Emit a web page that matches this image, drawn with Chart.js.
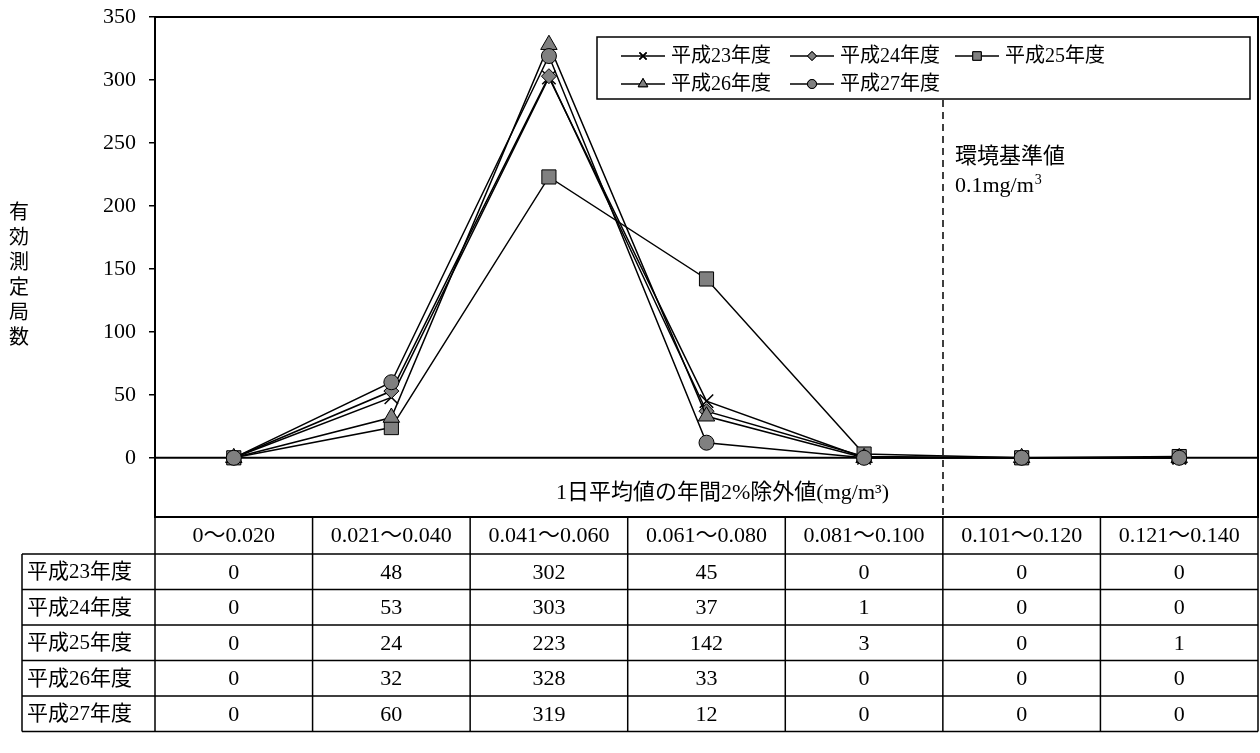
<!DOCTYPE html>
<html>
<head>
<meta charset="utf-8">
<script src="https://cdn.jsdelivr.net/npm/chart.js@4/dist/chart.umd.min.js"></script>
<style>
  html, body { margin: 0; padding: 0; background: #fff; }
  #wrap { width: 1260px; height: 753px; }
</style>
</head>
<body>
<div id="wrap"><canvas id="chart" width="1260" height="753"></canvas></div>
<script>
const categories = ['0～0.020', '0.021～0.040', '0.041～0.060', '0.061～0.080', '0.081～0.100', '0.101～0.120', '0.121～0.140']
const seriesNames = ['平成23年度', '平成24年度', '平成25年度', '平成26年度', '平成27年度']
const h23 = [0, 48, 302, 45, 0, 0, 0]
const h24 = [0, 53, 303, 37, 1, 0, 0]
const h25 = [0, 24, 223, 142, 3, 0, 1]
const h26 = [0, 32, 328, 33, 0, 0, 0]
const h27 = [0, 60, 319, 12, 0, 0, 0]
const yTicks = [0, 50, 100, 150, 200, 250, 300, 350]
const yTitle = '有効測定局数'
const xTitle = '1日平均値の年間2%除外値(mg/m³)'
const standardLabel = ['環境基準値', '0.1mg/m']

const seriesValues = [h23, h24, h25, h26, h27]
const markerStyles = ['crossRot', 'rectRot', 'rect', 'triangle', 'circle']
const markerRadius = [9.5, 7.5, 10, 9.5, 7.5]
const legendRadius = [5, 4.5, 6, 5.5, 4.5]

const SERIF = '"Liberation Serif", "Noto Sans CJK JP", serif'
const GRAY = '#808080'

const datasets = seriesValues.map((vals, i) => ({
  label: seriesNames[i],
  data: vals,
  borderColor: '#000',
  borderWidth: 1.5,
  pointStyle: markerStyles[i],
  pointRadius: markerRadius[i],
  pointBorderColor: '#000',
  pointBorderWidth: markerStyles[i] === 'crossRot' ? 1.5 : 1,
  pointBackgroundColor: GRAY,
  order: 4 - i,
  tension: 0
}))

function drawMarker(ctx, style, r, x, y) {
  Chart.helpers.drawPoint(ctx, {pointStyle: style, radius: r, rotation: 0, borderWidth: 1}, x, y)
  ctx.fill()
  ctx.stroke()
}

const decorations = {
  id: 'decorations',
  beforeDatasetsDraw(chart) {
    const ctx = chart.ctx
    const area = chart.chartArea
    const x = chart.scales.x
    const y = chart.scales.y
    ctx.save()
    // zero line
    ctx.strokeStyle = '#000'
    ctx.lineWidth = 2
    ctx.beginPath()
    ctx.moveTo(area.left, y.getPixelForValue(0))
    ctx.lineTo(area.right, y.getPixelForValue(0))
    ctx.stroke()

    // environmental standard line, between 0.081-0.100 and 0.101-0.120
    const sx = Math.round((x.getPixelForValue(4) + x.getPixelForValue(5)) / 2)
    ctx.lineWidth = 1.5
    ctx.setLineDash([7, 5])
    ctx.beginPath()
    ctx.moveTo(sx, 100)
    ctx.lineTo(sx, area.bottom)
    ctx.stroke()
    ctx.setLineDash([])

    ctx.fillStyle = '#000'
    ctx.font = '22px ' + SERIF
    ctx.textAlign = 'left'
    ctx.textBaseline = 'middle'
    ctx.fillText(standardLabel[0], sx + 12, 157)
    ctx.fillText(standardLabel[1], sx + 12, 186)
    const w = ctx.measureText(standardLabel[1]).width
    ctx.font = '14px ' + SERIF
    ctx.fillText('3', sx + 13 + w, 180)

    // x axis title
    ctx.font = '22px ' + SERIF
    ctx.textAlign = 'center'
    ctx.fillText(xTitle, (area.left + area.right) / 2 + 16, 493)

    // y axis title, vertical
    ctx.font = '20px "Noto Sans CJK JP", sans-serif'
    const chars = Array.from(yTitle)
    const mid = (y.getPixelForValue(0) + area.top) / 2 + 37
    chars.forEach((c, i) => {
      ctx.fillText(c, 19, mid + (i - (chars.length - 1) / 2) * 25)
    })
    ctx.restore()
  },
  afterDraw(chart) {
    const ctx = chart.ctx
    const area = chart.chartArea
    const x = chart.scales.x
    ctx.save()

    // plot frame
    ctx.strokeStyle = '#000'
    ctx.lineWidth = 2
    ctx.strokeRect(area.left, area.top, area.right - area.left, area.bottom - area.top)

    // legend box
    const lx = 597, ly = 37, lw = 653, lh = 62
    ctx.fillStyle = '#fff'
    ctx.fillRect(lx, ly, lw, lh)
    ctx.lineWidth = 1.5
    ctx.strokeRect(lx, ly, lw, lh)
    const colX = [621, 790, 955]
    const rowY = [56, 84]
    ctx.font = '20px ' + SERIF
    ctx.textAlign = 'left'
    ctx.textBaseline = 'middle'
    seriesNames.forEach((name, i) => {
      const cx = colX[i % 3]
      const cy = rowY[Math.floor(i / 3)]
      ctx.strokeStyle = '#000'
      ctx.lineWidth = 1.5
      ctx.beginPath()
      ctx.moveTo(cx, cy)
      ctx.lineTo(cx + 44, cy)
      ctx.stroke()
      ctx.fillStyle = GRAY
      ctx.lineWidth = markerStyles[i] === 'crossRot' ? 1.5 : 1
      drawMarker(ctx, markerStyles[i], legendRadius[i], cx + 22, cy)
      ctx.fillStyle = '#000'
      ctx.fillText(name, cx + 50, cy + 1)
    })

    // data table
    const top = area.bottom
    const headH = 37
    const rowH = 35.5
    const labelLeft = 22
    const edges = [area.left]
    for (let i = 0; i < categories.length - 1; i++) {
      edges.push((x.getPixelForValue(i) + x.getPixelForValue(i + 1)) / 2)
    }
    edges.push(area.right)
    const bottom = top + headH + rowH * seriesNames.length

    ctx.strokeStyle = '#000'
    ctx.lineWidth = 1.5
    ctx.beginPath()
    ctx.moveTo(area.left, top + headH)
    ctx.lineTo(area.right, top + headH)
    for (let r = 0; r <= seriesNames.length; r++) {
      const yy = top + headH + r * rowH
      ctx.moveTo(labelLeft, yy)
      ctx.lineTo(area.right, yy)
    }
    edges.forEach((ex) => {
      ctx.moveTo(ex, top)
      ctx.lineTo(ex, bottom)
    })
    ctx.moveTo(labelLeft, top + headH)
    ctx.lineTo(labelLeft, bottom)
    ctx.stroke()

    ctx.fillStyle = '#000'
    ctx.font = '22px ' + SERIF
    ctx.textAlign = 'center'
    categories.forEach((c, i) => {
      ctx.fillText(c, x.getPixelForValue(i), top + headH / 2 + 1)
    })
    seriesNames.forEach((name, r) => {
      const yy = top + headH + r * rowH + rowH / 2 + 1
      ctx.textAlign = 'left'
      ctx.font = '21px ' + SERIF
      ctx.fillText(name, labelLeft + 5, yy)
      ctx.textAlign = 'center'
      ctx.font = '22px ' + SERIF
      seriesValues[r].forEach((v, i) => {
        ctx.fillText(String(v), x.getPixelForValue(i), yy)
      })
    })
    ctx.restore()
  }
}

const ctx = document.getElementById('chart').getContext('2d')

new Chart(ctx, {
  type: 'line',
  data: {labels: categories, datasets: datasets},
  options: {
    responsive: false,
    animation: false,
    devicePixelRatio: 1,
    layout: {autoPadding: false, padding: {left: 0, top: 17, right: 2, bottom: 236}},
    plugins: {
      legend: {display: false},
      tooltip: {enabled: false}
    },
    scales: {
      x: {display: false, offset: true},
      y: {
        min: -47,
        max: 350,
        afterBuildTicks: (scale) => { scale.ticks = yTicks.map((v) => ({value: v})) },
        afterFit: (scale) => {
          scale.width = 155
          scale.paddingTop = 0
          scale.paddingBottom = 0
        },
        grid: {drawOnChartArea: false, drawTicks: true, tickLength: 6, color: '#000', lineWidth: 1.5},
        border: {display: true, color: '#000', width: 2},
        ticks: {color: '#000', padding: 13, font: {family: SERIF, size: 22}}
      }
    }
  },
  plugins: [decorations]
})
</script>
</body>
</html>
